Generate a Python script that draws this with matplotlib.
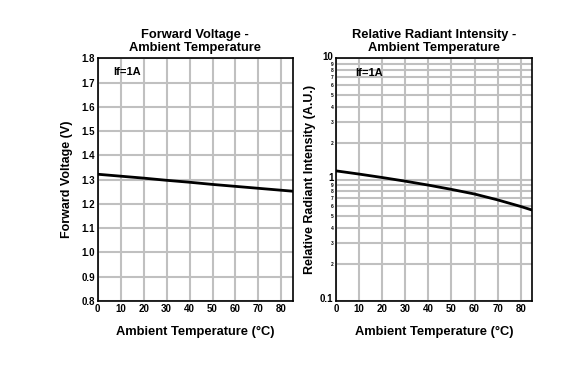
import math
import matplotlib.pyplot as plt
import matplotlib.transforms as mtransforms
from matplotlib.ticker import LogLocator, FixedLocator, FuncFormatter

plt.rcParams['font.family'] = ['Liberation Sans', 'DejaVu Sans']
plt.rcParams['font.weight'] = 'bold'

# data
temp = [0, 10, 20, 30, 40, 50, 60, 70, 85]
vf = [1.322, 1.314, 1.306, 1.297, 1.289, 1.280, 1.272, 1.264, 1.252]
temp_ri = [0, 10, 20, 30, 40, 50, 60, 70, 80, 85]
ri = [1.18, 1.11, 1.04, 0.97, 0.90, 0.83, 0.76, 0.68, 0.60, 0.56]
xticks = [0, 10, 20, 30, 40, 50, 60, 70, 80]
vticks = [0.8, 0.9, 1.0, 1.1, 1.2, 1.3, 1.4, 1.5, 1.6, 1.7, 1.8]

grid_c = '#c0c0c0'
fs = 9.3
fig = plt.figure(figsize=(5.62, 3.65), dpi=100)

# left: forward voltage
ax1 = fig.add_axes([0.174, 0.176, 0.347, 0.664])
ax1.plot(temp, vf, color='black', lw=2, zorder=3)
ax1.set_xlim(0, 85)
ax1.set_ylim(0.8, 1.8)
ax1.set_xticks(xticks)
ax1.set_yticks(vticks)
ax1.set_yticklabels(['%.1f' % v for v in vticks])
ax1.grid(True, color=grid_c, lw=1.5)
ax1.set_axisbelow(True)
ax1.tick_params(length=0, labelsize=7, pad=2)
ax1.set_title('Forward Voltage -\nAmbient Temperature', fontsize=fs, fontweight='bold', pad=5, linespacing=1.15)
ax1.set_xlabel('Ambient Temperature (°C)', fontsize=fs, fontweight='bold', labelpad=9)
ax1.set_ylabel('Forward Voltage (V)', fontsize=9, fontweight='bold', labelpad=6)
ax1.text(6.6, 1.745, 'If=1A', fontsize=8, fontweight='bold', va='center')
for s in ax1.spines.values():
    s.set_linewidth(1.2)

# right: relative radiant intensity (log)
ax2 = fig.add_axes([0.598, 0.176, 0.349, 0.664])
ax2.plot(temp_ri, ri, color='black', lw=2, zorder=3)
ax2.set_yscale('log')
ax2.set_xlim(0, 85)
ax2.set_ylim(0.1, 10)
ax2.set_xticks(xticks)
ax2.yaxis.set_major_locator(FixedLocator([0.1, 1, 10]))
ax2.yaxis.set_major_formatter(FuncFormatter(lambda v, p: '%g' % v))
ax2.yaxis.set_minor_locator(LogLocator(base=10, subs=range(2, 10)))
ax2.yaxis.set_minor_formatter(FuncFormatter(lambda v, p: '%d' % round(v / 10 ** math.floor(math.log10(v) + 1e-9))))
ax2.grid(True, which='both', color=grid_c, lw=1.5)
ax2.set_axisbelow(True)
ax2.tick_params(which='both', length=0, pad=2)
ax2.tick_params(which='major', labelsize=7)
ax2.tick_params(which='minor', labelsize=3.5)
# nudge the big labels up a little so they sit above their line
shift = mtransforms.ScaledTranslation(0, 1.8 / 72, fig.dpi_scale_trans)
for lab in ax2.get_yticklabels(which='major'):
    lab.set_transform(lab.get_transform() + shift)
ax2.set_title('Relative Radiant Intensity -\nAmbient Temperature', fontsize=fs, fontweight='bold', pad=5, linespacing=1.15)
ax2.set_xlabel('Ambient Temperature (°C)', fontsize=fs, fontweight='bold', labelpad=9)
ax2.set_ylabel('Relative Radiant Intensity (A.U.)', fontsize=9, fontweight='bold', labelpad=3)
ax2.text(8.2, 7.6, 'If=1A', fontsize=8, fontweight='bold', va='center')
for s in ax2.spines.values():
    s.set_linewidth(1.2)

fig.savefig('out.png', dpi=100)
